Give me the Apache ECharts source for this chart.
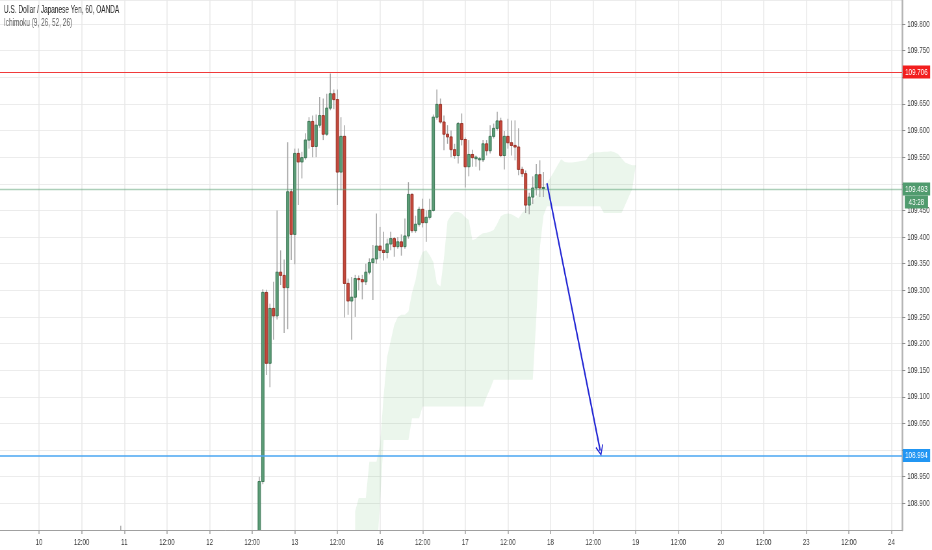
<!DOCTYPE html>
<html>
<head>
<meta charset="utf-8">
<script src="https://cdn.jsdelivr.net/npm/echarts@6/dist/echarts.min.js"></script>
<style>
html, body { margin: 0; padding: 0; width: 932px; height: 550px; overflow: hidden; background: #ffffff; }
#wrap { position: absolute; left: 0; top: 0; width: 1434px; height: 550px; transform: scaleX(0.64993); transform-origin: 0 0; }
</style>
</head>
<body>
<div id="wrap"></div>
<script>
// ---------- data ----------
const titleText = 'U.S. Dollar / Japanese Yen, 60, OANDA';
const indicatorText = 'Ichimoku (9, 26, 52, 26)';

// hourly trading-day categories (weekends skipped)
const tradingDays = ['9', '10', '11', '12', '13', '16', '17', '18', '19', '20', '23', '24'];
const firstDayStartHour = 13;
const lastDayEndHour = 3;
const categories = [];
tradingDays.forEach(function (d, k) {
  const h0 = k === 0 ? firstDayStartHour : 0;
  const h1 = k === tradingDays.length - 1 ? lastDayEndHour : 23;
  for (let h = h0; h <= h1; h++) categories.push(d + ' ' + String(h).padStart(2, '0') + ':00');
});

// y axis ticks
const yMin = 108.85, yMax = 109.845, yStep = 0.05;

// candles (one per hour) starting at candleStart
const candleStart = '12 14:00';
const opens = [108.620,108.941,109.296,109.163,109.266,109.252,109.334,109.328,109.305,109.485,
  109.405,109.557,109.541,109.549,109.582,109.617,109.570,109.610,109.628,109.593,
  109.642,109.669,109.658,109.522,109.589,109.313,109.280,109.287,109.322,109.320,
  109.316,109.334,109.352,109.359,109.383,109.375,109.371,109.387,109.397,109.382,
  109.391,109.382,109.402,109.480,109.412,109.424,109.452,109.427,109.437,109.450,
  109.625,109.649,109.616,109.593,109.588,109.564,109.553,109.613,109.583,109.532,
  109.555,109.547,109.545,109.545,109.575,109.562,109.589,109.604,109.618,109.553,
  109.589,109.577,109.572,109.569,109.527,109.519,109.460,109.475,109.492,109.517,
  109.492];
const highs = [108.950,109.302,109.301,109.275,109.316,109.450,109.375,109.358,109.578,109.490,
  109.566,109.566,109.560,109.595,109.625,109.628,109.630,109.663,109.660,109.669,
  109.707,109.677,109.677,109.625,109.610,109.322,109.325,109.329,109.328,109.329,
  109.350,109.360,109.385,109.444,109.419,109.410,109.397,109.410,109.400,109.400,
  109.405,109.435,109.503,109.482,109.440,109.457,109.472,109.450,109.472,109.630,
  109.677,109.660,109.628,109.610,109.600,109.575,109.616,109.632,109.587,109.582,
  109.564,109.553,109.550,109.582,109.582,109.610,109.613,109.635,109.624,109.599,
  109.622,109.619,109.619,109.604,109.532,109.525,109.483,109.514,109.537,109.544,
  109.522];
const lows = [108.600,108.936,109.141,109.118,109.207,109.245,109.310,109.220,109.227,109.357,
  109.349,109.460,109.510,109.545,109.566,109.550,109.550,109.605,109.582,109.590,
  109.638,109.640,109.460,109.488,109.249,109.254,109.207,109.250,109.300,109.283,
  109.310,109.330,109.282,109.350,109.360,109.356,109.360,109.375,109.363,109.378,
  109.365,109.378,109.397,109.408,109.408,109.420,109.418,109.391,109.433,109.448,
  109.620,109.613,109.563,109.575,109.550,109.547,109.538,109.572,109.493,109.514,
  109.532,109.532,109.525,109.541,109.553,109.557,109.585,109.600,109.550,109.527,
  109.566,109.553,109.544,109.516,109.513,109.445,109.443,109.462,109.478,109.475,
  109.475];
const closes = [108.941,109.296,109.163,109.266,109.252,109.334,109.328,109.305,109.485,109.405,
  109.557,109.541,109.549,109.582,109.617,109.570,109.610,109.628,109.593,109.642,
  109.669,109.658,109.522,109.589,109.313,109.280,109.287,109.322,109.320,109.316,
  109.334,109.352,109.359,109.383,109.375,109.371,109.387,109.397,109.382,109.391,
  109.382,109.402,109.480,109.412,109.424,109.452,109.427,109.437,109.450,109.625,
  109.649,109.616,109.593,109.588,109.564,109.553,109.613,109.583,109.532,109.555,
  109.549,109.550,109.547,109.575,109.562,109.589,109.604,109.618,109.553,109.589,
  109.577,109.572,109.569,109.527,109.519,109.460,109.475,109.492,109.517,109.492,
  109.493];

// an earlier candle whose wick just reaches into view
const earlyTimes = ['10 23:00'];
const earlyOpens = [108.530];
const earlyHighs = [108.858];
const earlyLows = [108.500];
const earlyCloses = [108.540];

// Ichimoku cloud (span boundaries), starting at cloudStart
const cloudStart = '13 17:00';
const cloudUpper = [108.885,108.910,108.910,108.910,108.978,108.978,108.978,109.010,109.100,109.175,
  109.205,109.235,109.250,109.254,109.254,109.260,109.295,109.319,109.355,109.372,
  109.375,109.366,109.353,109.313,109.307,109.360,109.430,109.441,109.447,109.447,
  109.444,109.437,109.432,109.394,109.397,109.403,109.407,109.408,109.410,109.413,
  109.425,109.439,109.443,109.444,109.443,109.439,109.435,109.445,109.452,109.460,
  109.468,109.475,109.485,109.493,109.502,109.512,109.523,109.535,109.546,109.541,
  109.540,109.540,109.541,109.542,109.543,109.544,109.555,109.558,109.559,109.559,
  109.560,109.560,109.561,109.559,109.556,109.548,109.540,109.537,109.535,109.535];
const cloudLower = [108.800,108.800,108.800,108.800,108.800,108.800,108.800,108.900,109.019,109.019,
  109.019,109.019,109.019,109.019,109.019,109.019,109.060,109.060,109.060,109.082,
  109.082,109.082,109.082,109.082,109.082,109.082,109.082,109.082,109.082,109.082,
  109.082,109.082,109.082,109.082,109.082,109.082,109.082,109.100,109.115,109.132,
  109.132,109.132,109.132,109.132,109.132,109.132,109.132,109.132,109.132,109.132,
  109.132,109.250,109.380,109.440,109.458,109.458,109.458,109.458,109.458,109.458,
  109.458,109.458,109.458,109.458,109.458,109.458,109.458,109.458,109.458,109.458,
  109.445,109.445,109.445,109.445,109.445,109.445,109.460,109.475,109.490];

// horizontal levels
const resistanceLevel = 109.706;
const lastPrice = 109.493;
const targetLevel = 108.994;
const countdownText = '43:28';

// projected move arrow
const arrowFrom = ['17 23:00', 109.501];
const arrowTo = ['18 14:00', 108.999];

// ---------- build ----------
const FONT = '"Liberation Sans", Arial, sans-serif';
const idxOf = function (t) { return categories.indexOf(t); };

const candleData = [];
for (let k = 0; k < earlyTimes.length; k++) {
  candleData.push([idxOf(earlyTimes[k]), earlyOpens[k], earlyCloses[k], earlyLows[k], earlyHighs[k]]);
}
const c0 = idxOf(candleStart);
for (let k = 0; k < opens.length; k++) {
  candleData.push([c0 + k, opens[k], closes[k], lows[k], highs[k]]);
}
const cloudIdx0 = idxOf(cloudStart);

const isMajor = function (i, v) {
  const hh = String(v).split(' ')[1];
  return hh === '00:00' || hh === '12:00';
};
const levels = [resistanceLevel, lastPrice, targetLevel];

const chart = echarts.init(document.getElementById('wrap'), null, { renderer: 'canvas' });

const baseLabel = {
  show: true, position: 'end', distance: 22, align: 'center',
  color: '#ffffff', fontSize: 9.5, fontFamily: FONT
};

const option = {
  animation: false,
  backgroundColor: '#ffffff',
  grid: { left: 0, right: 46, top: 0, bottom: 20, outerBoundsMode: 'none', containLabel: false },
  graphic: [
    { type: 'text', left: 6, top: 5, z: 100, style: { text: titleText, fill: '#262626', font: '10px ' + FONT } },
    { type: 'text', left: 6, top: 18, z: 100, style: { text: indicatorText, fill: '#5e5e5e', font: '10px ' + FONT } }
  ],
  xAxis: {
    type: 'category',
    data: categories,
    boundaryGap: false,
    axisLine: { show: true, lineStyle: { color: '#a0a0a0', width: 1 } },
    axisTick: { show: true, interval: isMajor, length: 4, lineStyle: { color: '#a0a0a0', width: 1.5 } },
    axisLabel: {
      interval: isMajor, margin: 7, fontSize: 9.5, color: '#3b3b3b', fontFamily: FONT,
      formatter: function (v) {
        const p = String(v).split(' ');
        return p[1] === '00:00' ? p[0] : '12:00';
      }
    },
    splitLine: { show: true, interval: isMajor, lineStyle: { color: '#e9e9e9', width: 1.5 } }
  },
  yAxis: {
    type: 'value', position: 'right', scale: true,
    min: yMin, max: yMax, interval: yStep,
    axisLine: { show: true, lineStyle: { color: '#b4b4b4', width: 2.5 } },
    axisTick: { show: true, length: 5, lineStyle: { color: '#8f8f8f' } },
    axisLabel: {
      margin: 8, fontSize: 9.5, color: '#3b3b3b', fontFamily: FONT,
      showMinLabel: false, showMaxLabel: false,
      formatter: function (v) {
        if (levels.some(function (l) { return Math.abs(l - v) < 0.012; })) return '';
        return v.toFixed(3);
      }
    },
    splitLine: { show: true, lineStyle: { color: '#ececec', width: 1 } }
  },
  series: [
    {
      type: 'custom', name: 'cloud', z: 1, clip: true, silent: true,
      data: [[cloudIdx0, cloudUpper[0]]],
      renderItem: function (params, api) {
        const pts = [];
        for (let k = 0; k < cloudUpper.length; k++) pts.push(api.coord([cloudIdx0 + k, cloudUpper[k]]));
        for (let k = cloudLower.length - 1; k >= 0; k--) pts.push(api.coord([cloudIdx0 + k, cloudLower[k]]));
        return { type: 'polygon', shape: { points: pts }, style: { fill: 'rgba(76,175,80,0.11)' } };
      }
    },
    {
      type: 'custom', name: 'USDJPY', z: 3, clip: true,
      data: candleData,
      encode: { x: 0, y: [1, 2, 3, 4] },
      renderItem: function (params, api) {
        const xi = api.value(0);
        const o = api.value(1), c = api.value(2), l = api.value(3), h = api.value(4);
        const pO = api.coord([xi, o]), pC = api.coord([xi, c]);
        const pL = api.coord([xi, l]), pH = api.coord([xi, h]);
        const bw = api.size([1, 0])[0] * 0.72;
        const up = c >= o;
        const top = Math.min(pO[1], pC[1]);
        const ht = Math.max(Math.abs(pO[1] - pC[1]), 1);
        return {
          type: 'group',
          children: [
            { type: 'line', shape: { x1: pH[0], y1: pH[1], x2: pL[0], y2: pL[1] }, style: { stroke: '#a3a3a3', lineWidth: 1.5 } },
            { type: 'rect', shape: { x: pO[0] - bw / 2, y: top, width: bw, height: ht },
              style: { fill: up ? '#5c9c77' : '#c4483b', stroke: up ? '#3e7857' : '#9a3328', lineWidth: 1 } }
          ]
        };
      }
    },
    {
      type: 'line', name: 'levels', z: 5, data: [], silent: true,
      markLine: {
        silent: true, symbol: 'none', animation: false,
        data: [
          { yAxis: resistanceLevel,
            lineStyle: { color: '#f03a3a', width: 1.2, type: 'solid' },
            label: Object.assign({}, baseLabel, { formatter: resistanceLevel.toFixed(3), backgroundColor: '#f21d1d', padding: [2, 4, 1, 4] }) },
          { yAxis: targetLevel,
            lineStyle: { color: '#4aa6f2', width: 1.5, type: 'solid' },
            label: Object.assign({}, baseLabel, { formatter: targetLevel.toFixed(3), backgroundColor: '#2196f3', padding: [2, 4, 1, 4] }) },
          { yAxis: lastPrice,
            lineStyle: { color: 'rgba(90,160,115,0.5)', width: 1.3, type: 'solid' },
            label: Object.assign({}, baseLabel, {
              formatter: '{e| }\n{p|' + lastPrice.toFixed(3) + '}\n{t|' + countdownText + '}',
              rich: {
                e: { fontSize: 9.5, lineHeight: 13, fontFamily: FONT },
                p: { fontSize: 9.5, lineHeight: 13, color: '#fff', backgroundColor: '#509b6e', padding: [2, 4, 1, 4], fontFamily: FONT },
                t: { fontSize: 9.5, lineHeight: 13, color: '#fff', backgroundColor: '#509b6e', padding: [2, 6, 1, 6], fontFamily: FONT }
              }
            }) },
          [
            { coord: arrowFrom, symbol: 'none' },
            { coord: arrowTo, symbol: 'path://M5,0 L10,9 L9,10 L5,2.6 L1,10 L0,9 Z', symbolSize: [12, 11] }
          ]
        ]
      }
    }
  ]
};
// arrow style (applied to the pair item)
option.series[2].markLine.data[3][0].lineStyle = { color: '#2226d4', width: 2.2, type: 'solid' };
option.series[2].markLine.data[3][0].label = { show: false };
option.series[2].markLine.data[3][1].itemStyle = { color: '#2226d4' };

chart.setOption(option);
</script>
</body>
</html>
